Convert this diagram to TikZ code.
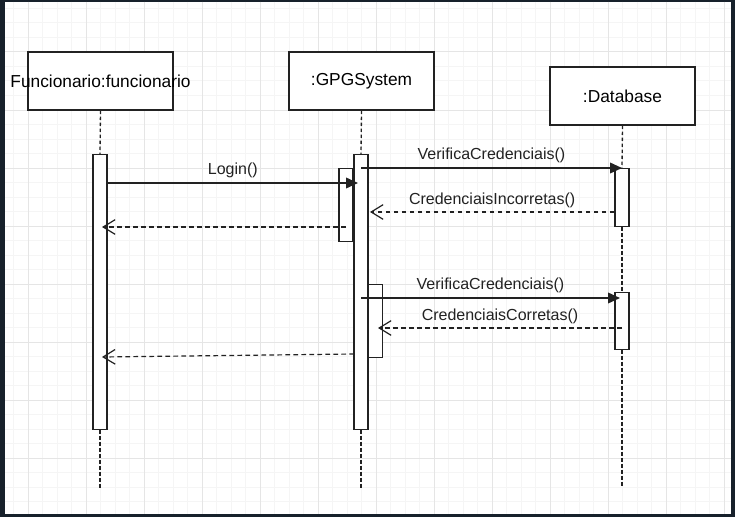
\documentclass[tikz,border=0pt]{standalone}
\usepackage{fontspec}
\setmainfont{Liberation Sans}
\usetikzlibrary{arrows.meta,positioning}
\definecolor{framecol}{HTML}{17212B}
\definecolor{inkcol}{HTML}{222222}
\tikzset{
  lifehead/.style={draw=inkcol,line width=1pt,fill=white,minimum width=108.75pt,minimum height=43.5pt,inner sep=0pt},
  headtext/.style={inner sep=0pt,font=\fontsize{13}{15}\selectfont},
  actbox/.style={draw=inkcol,line width=1pt,fill=white,minimum width=10.5pt,inner sep=0pt,anchor=north},
  lifeline/.style={inkcol,line width=1pt,dash pattern=on 2.5pt off 2pt},
  callmsg/.style={inkcol,line width=1.2pt,-{Triangle[length=9pt,width=8pt]}},
  replymsg/.style={inkcol,line width=0.9pt,dash pattern=on 3.5pt off 2.5pt,-{Straight Barb[length=9pt,width=11pt]}},
  msglabel/.style={midway,above,inner sep=3pt,font=\fontsize{12}{14}\selectfont},
  minorgrid/.style={black!4,line width=0.75pt},
  majorgrid/.style={black!10,line width=0.75pt},
}
\begin{document}
\begin{tikzpicture}[x=0.75pt,y=-0.75pt]
            \useasboundingbox (0,0) rectangle (735,517);
            % Frame and grid
            \fill[framecol](0,0)rectangle(735,517);
            \fill[white](5,2)rectangle(731,514);
            \begin{scope}
            \clip(5,2)rectangle(731,514);
            \foreach \i in {0,...,50} \draw[minorgrid]({13.5+14.5*\i},2)--({13.5+14.5*\i},514);
            \foreach \i in {0,...,35} \draw[minorgrid](5,{8.5+14.5*\i})--(731,{8.5+14.5*\i});
            \foreach \i in {0,...,12} \draw[majorgrid]({28+58*\i},2)--({28+58*\i},514);
            \foreach \i in {1,...,9} \draw[majorgrid](5,{-6+58*\i})--(731,{-6+58*\i});
            \end{scope}
            % Lifeline heads
            \node[lifehead](func) at (100.5,81){};
            \node[headtext] at (func){Funcionario:funcionario};
            \node[lifehead](gpg) at (361.5,81){};
            \node[headtext] at (gpg){:GPGSystem};
            \node[lifehead](db) at (622.5,96){};
            \node[headtext] at (db){:Database};
            % Activations
            \node[actbox,minimum height=206.25pt](fact) at (100,154){};
            \node[actbox,minimum height=206.25pt](gact) at (361,154){};
            \node[actbox,minimum height=54.75pt](gact2) at (346,168){};
            \node[actbox,minimum height=54.75pt](gact3) at (375.5,284){};
            \node[actbox,minimum height=43.5pt](dact) at (622,168){};
            \node[actbox,minimum height=42.75pt](dact2) at (622,292){};
            % Lifelines
            \coordinate(foot) at (0,488);
            \draw[lifeline](func.south)--(fact.north);
            \draw[lifeline](fact.south)--(fact.south|-foot);
            \draw[lifeline](gpg.south)--(gact.north);
            \draw[lifeline](gact.south)--(gact.south|-foot);
            \draw[lifeline](db.south)--(dact.north);
            \draw[lifeline](dact.south)--(dact2.north);
            \draw[lifeline](dact2.south)--(dact2.south|-foot);
            % Message ends
            \coordinate(login-end) at (358,183);
            \coordinate(back-end) at (102,227);
            \coordinate(wrong-end) at (370,212);
            \coordinate(check-end) at (620,298);
            \coordinate(right-end) at (378,328);
            \coordinate(done-start) at (354,354);
            \coordinate(done-end) at (102,357);
            % Messages
            \draw[callmsg](fact.east|-login-end)--(login-end)node[msglabel]{Login()};
            \draw[replymsg](gact2.center|-back-end)--(back-end);
            \draw[callmsg](gact.center|-dact.north)--(dact.north)node[msglabel]{VerificaCredenciais()};
            \draw[replymsg](dact.west|-wrong-end)--(wrong-end)node[msglabel]{CredenciaisIncorretas()};
            \draw[callmsg](gact.center|-check-end)--(check-end)node[msglabel]{VerificaCredenciais()};
            \draw[replymsg](dact2.center|-right-end)--(right-end)node[msglabel]{CredenciaisCorretas()};
            \draw[replymsg](done-start)--(done-end);
\end{tikzpicture}
\end{document}
